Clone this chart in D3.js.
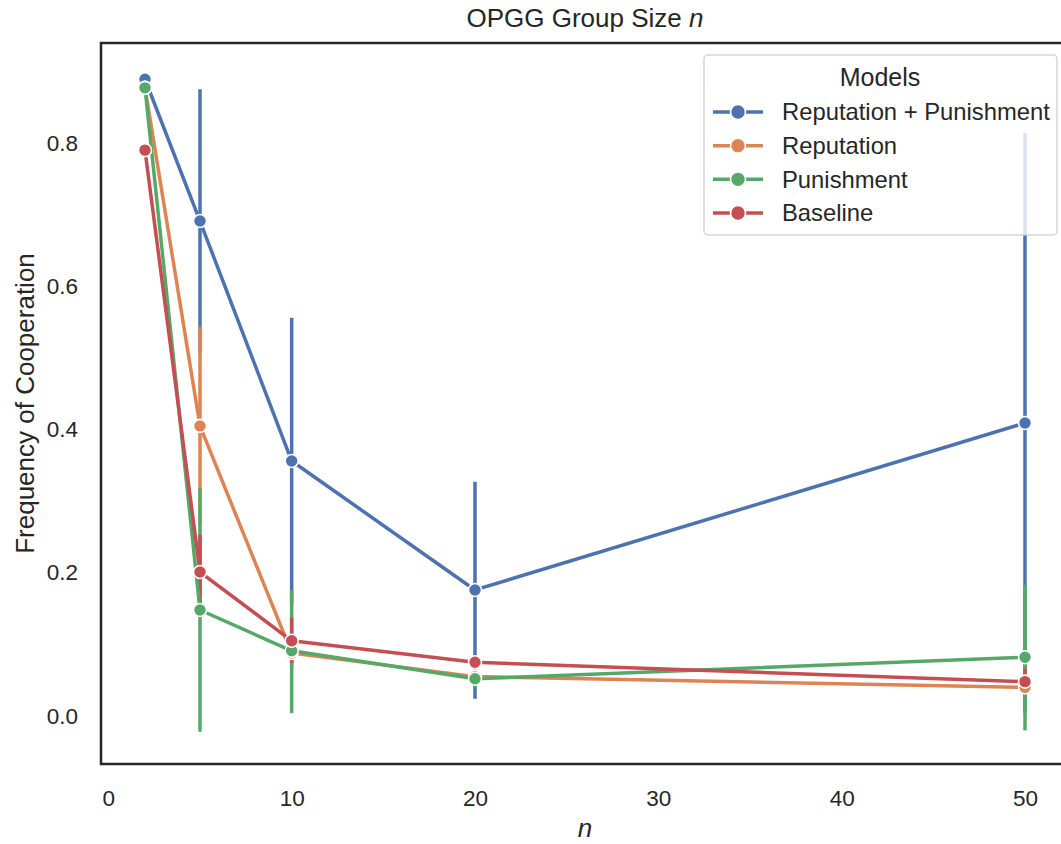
<!DOCTYPE html>
<html lang="en">
  <head>
    <meta charset="utf-8">
    <title>OPGG Group Size n</title>
    <style>
    body {
      margin: 0;
      background: white;
      font-family: "Liberation Sans", Arial, sans-serif;
    }
    text {
      fill: #262626;
    }
    </style>
  </head>
  <body>
    <svg id="chart"></svg>

    <script src="https://cdn.jsdelivr.net/npm/d3@7"></script>
    <script>

    // group sizes on the x axis
    var groupSizes = [2, 5, 10, 20, 50]

    // model names and colours (seaborn "deep")
    var modelNames = ["Reputation + Punishment", "Reputation", "Punishment", "Baseline"]
    var modelColors = ["#4C72B0", "#DD8452", "#55A868", "#C44E52"]

    // mean frequency of cooperation
    var repPunMean = [0.889, 0.691, 0.356, 0.176, 0.409]
    var repMean    = [0.877, 0.405, 0.088, 0.055, 0.040]
    var punMean    = [0.877, 0.148, 0.091, 0.052, 0.082]
    var baseMean   = [0.790, 0.201, 0.105, 0.075, 0.048]

    // error bar ends
    var repPunLo = [0.880, 0.507, 0.156, 0.024, 0.004]
    var repPunHi = [0.898, 0.875, 0.556, 0.327, 0.814]
    var repLo    = [0.870, 0.267, 0.068, 0.045, 0.030]
    var repHi    = [0.884, 0.543, 0.108, 0.065, 0.050]
    var punLo    = [0.870, -0.022, 0.004, 0.040, -0.020]
    var punHi    = [0.884, 0.318, 0.176, 0.064, 0.183]
    var baseLo   = [0.785, 0.150, 0.074, 0.068, 0.030]
    var baseHi   = [0.795, 0.253, 0.137, 0.082, 0.066]

    var xTicks = [0, 10, 20, 30, 40, 50]
    var yTicks = [0.0, 0.2, 0.4, 0.6, 0.8]

    // build one table for drawing
    var means = [repPunMean, repMean, punMean, baseMean]
    var lows = [repPunLo, repLo, punLo, baseLo]
    var highs = [repPunHi, repHi, punHi, baseHi]
    var series = modelNames.map(function(name, i){
      return {
        name: name,
        color: modelColors[i],
        points: groupSizes.map(function(n, j){
          return {n: n, y: means[i][j], lo: lows[i][j], hi: highs[i][j]}
        })
      }
    })

    var W = 1061, H = 844
    // axes box; the right side runs past the picture edge like the original
    // (window.top is read-only, so no "top" variable here)
    var box = {left: 101, right: 1069, top: 43, bottom: 764}

    var svg = d3.select("#chart")
      .attr("width", W)
      .attr("height", H)

    var xScale = d3.scaleLinear().domain([-0.4, 52.4]).range([box.left, box.right])
    var yScale = d3.scaleLinear().domain([-0.067, 0.9396]).range([box.bottom, box.top])

    // tick labels, no tick marks (seaborn white style)
    var xAxis = d3.axisBottom(xScale).tickValues(xTicks).tickSize(0).tickPadding(26)
      .tickFormat(d3.format("d"))
    var yAxis = d3.axisLeft(yScale).tickValues(yTicks).tickSize(0).tickPadding(23)
      .tickFormat(d3.format(".1f"))

    var gx = svg.append("g")
      .attr("transform", "translate(0," + box.bottom + ")")
      .call(xAxis)
    gx.select(".domain").remove()
    gx.selectAll("text")
      .attr("font-size", "22.5px")
      .attr("font-family", "Liberation Sans, Arial, sans-serif")
      .style("fill", "#262626")

    var gy = svg.append("g")
      .attr("transform", "translate(" + box.left + ",0)")
      .call(yAxis)
    gy.select(".domain").remove()
    gy.selectAll("text")
      .attr("font-size", "22.5px")
      .attr("font-family", "Liberation Sans, Arial, sans-serif")
      .style("fill", "#262626")

    var plot = svg.append("g")

    // error bars first: matplotlib draws collections below lines
    series.forEach(function(s){
      plot.selectAll(null)
        .data(s.points)
        .enter().append("line")
          .attr("x1", function(d){ return xScale(d.n) })
          .attr("x2", function(d){ return xScale(d.n) })
          .attr("y1", function(d){ return yScale(d.lo) })
          .attr("y2", function(d){ return yScale(d.hi) })
          .attr("stroke", s.color)
          .attr("stroke-width", 3.5)
    })

    var line = d3.line()
      .x(function(d){ return xScale(d.n) })
      .y(function(d){ return yScale(d.y) })

    // lines + markers, one series at a time
    series.forEach(function(s){
      plot.append("path")
        .datum(s.points)
        .attr("d", line)
        .attr("fill", "none")
        .attr("stroke", s.color)
        .attr("stroke-width", 3.5)
        .attr("stroke-linejoin", "round")

      plot.selectAll(null)
        .data(s.points)
        .enter().append("circle")
          .attr("cx", function(d){ return xScale(d.n) })
          .attr("cy", function(d){ return yScale(d.y) })
          .attr("r", 6.5)
          .attr("fill", s.color)
          .attr("stroke", "white")
          .attr("stroke-width", 1.6)
    })

    // spines
    svg.append("rect")
      .attr("x", box.left)
      .attr("y", box.top)
      .attr("width", box.right - box.left)
      .attr("height", box.bottom - box.top)
      .attr("fill", "none")
      .attr("stroke", "#262626")
      .attr("stroke-width", 2.5)

    // legend
    var legend = svg.append("g")
    legend.append("rect")
      .attr("x", 704)
      .attr("y", 55)
      .attr("width", 353)
      .attr("height", 180)
      .attr("rx", 4)
      .attr("fill", "white")
      .attr("fill-opacity", 0.8)
      .attr("stroke", "#cccccc")
      .attr("stroke-opacity", 0.8)
      .attr("stroke-width", 1.5)

    legend.append("text")
      .attr("x", 880)
      .attr("y", 77)
      .attr("dy", "0.35em")
      .attr("text-anchor", "middle")
      .attr("font-size", "25px")
      .text("Models")

    var rowY = d3.scaleLinear().domain([0, 3]).range([112, 213])
    series.forEach(function(s, i){
      var yy = rowY(i)
      legend.append("line")
        .attr("x1", 713).attr("x2", 763)
        .attr("y1", yy).attr("y2", yy)
        .attr("stroke", s.color)
        .attr("stroke-width", 3.5)
      legend.append("circle")
        .attr("cx", 738).attr("cy", yy)
        .attr("r", 7.5)
        .attr("fill", s.color)
        .attr("stroke", "white")
        .attr("stroke-width", 1.6)
      legend.append("text")
        .attr("x", 782)
        .attr("y", yy)
        .attr("dy", "0.35em")
        .attr("font-size", "23.8px")
        .text(s.name)
    })

    // title and axis labels
    var midX = (box.left + box.right) / 2
    svg.append("text")
      .attr("x", midX)
      .attr("y", 18)
      .attr("dy", "0.35em")
      .attr("text-anchor", "middle")
      .attr("font-size", "26px")
      .html('OPGG Group Size <tspan font-style="italic">n</tspan>')

    svg.append("text")
      .attr("x", midX)
      .attr("y", 828)
      .attr("dy", "0.35em")
      .attr("text-anchor", "middle")
      .attr("font-size", "26px")
      .attr("font-style", "italic")
      .text("n")

    svg.append("text")
      .attr("transform", "translate(25," + ((box.top + box.bottom) / 2) + ") rotate(-90)")
      .attr("dy", "0.35em")
      .attr("text-anchor", "middle")
      .attr("font-size", "26px")
      .text("Frequency of Cooperation")

    </script>
  </body>
</html>
